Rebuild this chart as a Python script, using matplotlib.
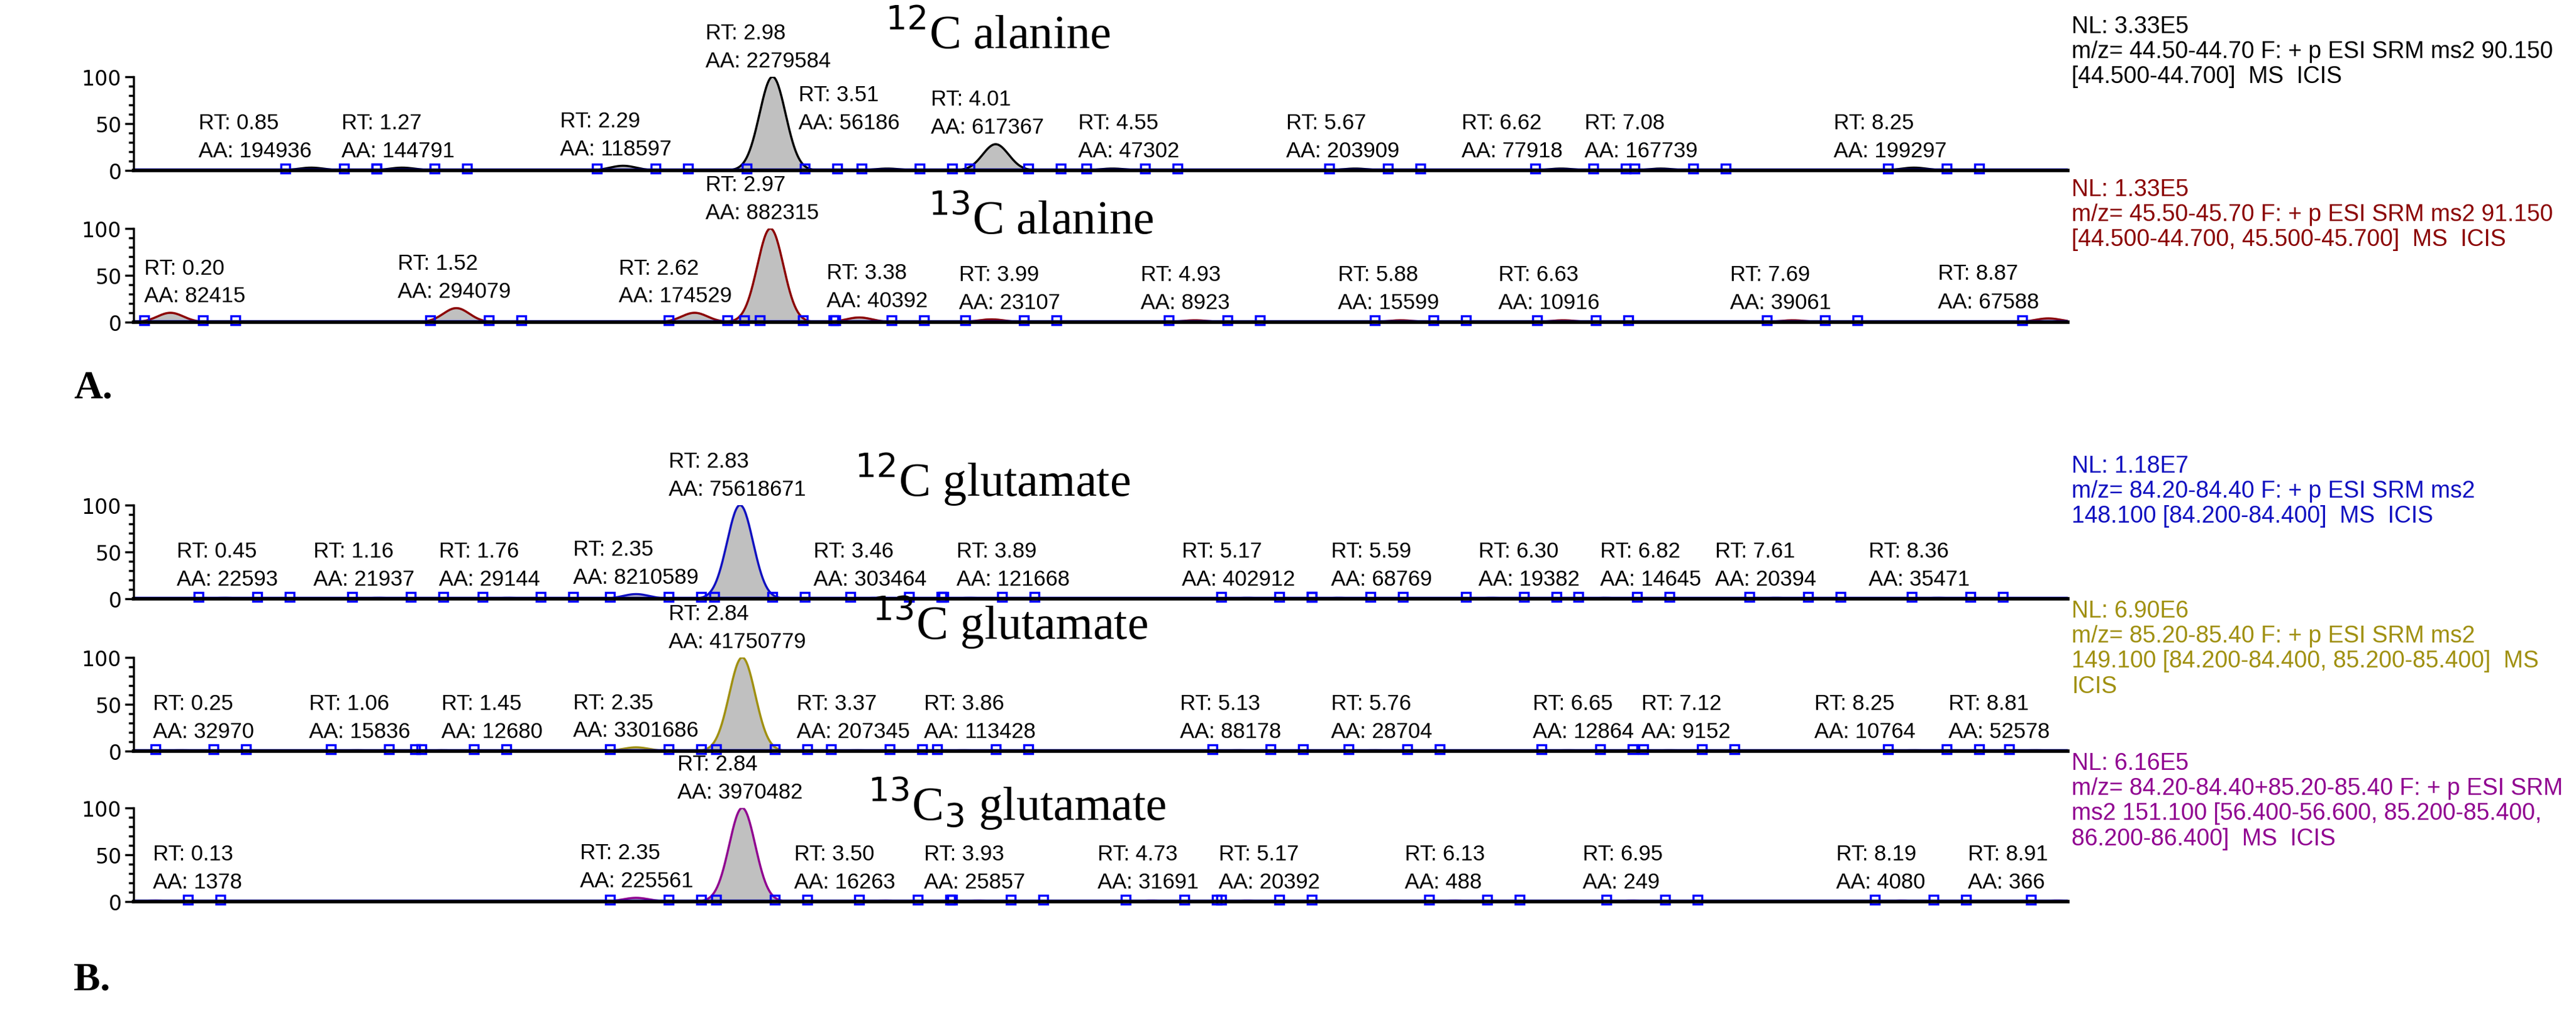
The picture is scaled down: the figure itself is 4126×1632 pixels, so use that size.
import numpy as np
import matplotlib
matplotlib.use("Agg")
import matplotlib.pyplot as plt

# ---- data ----
p1_rt = [0.85, 1.27, 2.29, 2.98, 3.51, 4.01, 4.55, 5.67, 6.62, 7.08, 8.25]
p1_aa = [194936, 144791, 118597, 2279584, 56186, 617367, 47302, 203909, 77918, 167739, 199297]
p1_h  = [3, 3, 5, 100, 2, 28, 2, 2, 2, 2, 3]
p2_rt = [0.20, 1.52, 2.62, 2.97, 3.38, 3.99, 4.93, 5.88, 6.63, 7.69, 8.87]
p2_aa = [82415, 294079, 174529, 882315, 40392, 23107, 8923, 15599, 10916, 39061, 67588]
p2_h  = [10, 15, 10, 100, 5, 3, 2, 2, 2, 2, 4]
p3_rt = [0.45, 1.16, 1.76, 2.35, 2.83, 3.46, 3.89, 5.17, 5.59, 6.30, 6.82, 7.61, 8.36]
p3_aa = [22593, 21937, 29144, 8210589, 75618671, 303464, 121668, 402912, 68769, 19382, 14645, 20394, 35471]
p3_h  = [1, 1, 1, 5, 100, 1, 1, 1, 1, 1, 1, 1, 1]
p4_rt = [0.25, 1.06, 1.45, 2.35, 2.84, 3.37, 3.86, 5.13, 5.76, 6.65, 7.12, 8.25, 8.81]
p4_aa = [32970, 15836, 12680, 3301686, 41750779, 207345, 113428, 88178, 28704, 12864, 9152, 10764, 52578]
p4_h  = [1, 1, 1, 4, 100, 1, 1, 1, 1, 1, 1, 1, 1]
p5_rt = [0.13, 2.35, 2.84, 3.50, 3.93, 4.73, 5.17, 6.13, 6.95, 8.19, 8.91]
p5_aa = [1378, 225561, 3970482, 16263, 25857, 31691, 20392, 488, 249, 4080, 366]
p5_h  = [1, 4, 100, 1, 1, 1, 1, 1, 1, 1, 1]

# label anchor (left edge, minutes) as placed by the software
p1_lx = [0.33, 0.99, 2.00, 2.67, 3.10, 3.71, 4.39, 5.35, 6.16, 6.73, 7.88]
p2_lx = [0.08, 1.25, 2.27, 2.67, 3.23, 3.84, 4.68, 5.59, 6.33, 7.40, 8.36]
p3_lx = [0.23, 0.86, 1.44, 2.06, 2.50, 3.17, 3.83, 4.87, 5.56, 6.24, 6.80, 7.33, 8.04]
p4_lx = [0.12, 0.84, 1.45, 2.06, 2.50, 3.09, 3.68, 4.86, 5.56, 6.49, 6.99, 7.79, 8.41]
p5_lx = [0.12, 2.09, 2.54, 3.08, 3.68, 4.48, 5.04, 5.90, 6.72, 7.89, 8.50]
raised = {0: [3.51]}

titles = [r"$^{12}$C alanine", r"$^{13}$C alanine", r"$^{12}$C glutamate",
          r"$^{13}$C glutamate", r"$^{13}$C$_3$ glutamate"]
info = [
    "NL: 3.33E5\nm/z= 44.50-44.70 F: + p ESI SRM ms2 90.150\n[44.500-44.700]  MS  ICIS",
    "NL: 1.33E5\nm/z= 45.50-45.70 F: + p ESI SRM ms2 91.150\n[44.500-44.700, 45.500-45.700]  MS  ICIS",
    "NL: 1.18E7\nm/z= 84.20-84.40 F: + p ESI SRM ms2\n148.100 [84.200-84.400]  MS  ICIS",
    "NL: 6.90E6\nm/z= 85.20-85.40 F: + p ESI SRM ms2\n149.100 [84.200-84.400, 85.200-85.400]  MS\nICIS",
    "NL: 6.16E5\nm/z= 84.20-84.40+85.20-85.40 F: + p ESI SRM\nms2 151.100 [56.400-56.600, 85.200-85.400,\n86.200-86.400]  MS  ICIS",
]
colors = ["black", "#8B0000", "#1010C0", "#A09010", "#900090"]
panels = [(p1_rt, p1_aa, p1_h, p1_lx), (p2_rt, p2_aa, p2_h, p2_lx),
          (p3_rt, p3_aa, p3_h, p3_lx), (p4_rt, p4_aa, p4_h, p4_lx),
          (p5_rt, p5_aa, p5_h, p5_lx)]
title_x = [3.50, 3.70, 3.36, 3.44, 3.42]
title_y = [1.45, 1.09, 1.28, 1.38, 1.05]
info_y = [1.51, 1.39, 1.39, 1.47, 1.45]

W, H = 4126, 1633
fig = plt.figure(figsize=(W/100, H/100), dpi=100)
zeros = [274, 517, 960, 1204, 1445]
ph = 150
left, right = 214, 3312
xl = (0.03, 8.96)
t = np.linspace(xl[0], xl[1], 2500)
fs = 25
for i, ((rts, aas, hs, lxs), z) in enumerate(zip(panels, zeros)):
    ax = fig.add_axes([left/W, 1 - z/H, (right-left)/W, ph/H])
    y = np.zeros_like(t)
    for r, h in zip(rts, hs):
        s = 0.06
        y += h*np.exp(-0.5*((t-r)/s)**2)
    ax.fill_between(t, 0, y, color="#c0c0c0", lw=0)
    ax.plot(t, y, color=colors[i], lw=2.5)
    ax.plot(t, np.zeros_like(t)+0.8, color="#0000ff", lw=3)
    mk = np.array(rts)
    for off in (-0.12, 0.15, 0.3):
        m = (mk + off > xl[0]) & (mk + off < xl[1])
        ax.plot((mk + off)[m], np.full(m.sum(), 2), ls="none", marker="s",
                mfc="none", mec="#0000ff", ms=10, mew=2.5, clip_on=False)
    ax.set_xlim(*xl)
    ax.set_ylim(0, 100)
    for sp in ["top", "right"]:
        ax.spines[sp].set_visible(False)
    ax.spines["left"].set_linewidth(2.5)
    ax.spines["bottom"].set_linewidth(4)
    ax.set_xticks([])
    ax.set_yticks([0, 50, 100])
    ax.set_yticks(range(0, 101, 10), minor=True)
    ax.tick_params(axis="y", labelsize=24, length=10, width=2.5, pad=4)
    ax.tick_params(axis="y", which="minor", length=6, width=2.5)
    for r, a, h, lx in zip(rts, aas, hs, lxs):
        if h > 50:
            ya = 117
        elif r in raised.get(i, []):
            ya = 51
        else:
            ya = max(21, h + 18)
        ax.text(lx, ya, f"AA: {a}", ha="left", va="center", fontsize=fs,
                family="Liberation Sans", clip_on=False)
        ax.text(lx, ya + 30, f"RT: {r:.2f}", ha="left", va="center", fontsize=fs,
                family="Liberation Sans", clip_on=False)
    ax.text(title_x[i], title_y[i] * 100, titles[i],
            fontsize=55, family="Liberation Serif", va="center", clip_on=False)
    ax.text(1.002, info_y[i] + 0.15, info[i], transform=ax.transAxes,
            ha="left", va="top", fontsize=27, color=colors[i],
            family="Liberation Sans", linespacing=1.15)

fig.text(118/W, 1 - 623/H, "A.", fontsize=46, family="Liberation Serif",
         weight="bold", va="center")
fig.text(118/W, 1 - 1571/H, "B.", fontsize=46, family="Liberation Serif",
         weight="bold", va="center")
fig.savefig("out.png", dpi=100, facecolor="white")
